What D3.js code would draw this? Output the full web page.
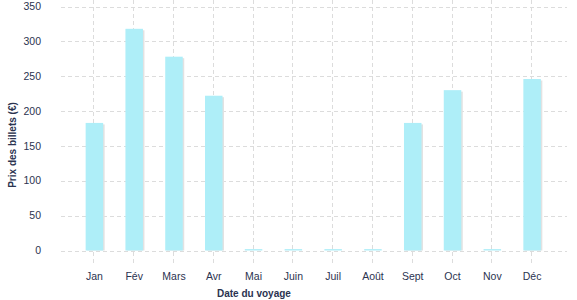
<!DOCTYPE html>
<html>
<head>
<meta charset="utf-8">
<script src="https://cdn.jsdelivr.net/npm/d3@7"></script>
<style>
  body { margin: 0; background: #fff; }
  svg { display: block; font-family: "Liberation Sans", Arial, sans-serif; }
</style>
</head>
<body>
<div id="chart"></div>
<script>
// Prix des billets par mois de voyage
const months = ["Jan", "Fév", "Mars", "Avr", "Mai", "Juin", "Juil", "Août", "Sept", "Oct", "Nov", "Déc"];
const prices = [183, 318, 278, 222, 2, 2, 2, 2, 183, 230, 2, 246];
const yTicks = [0, 50, 100, 150, 200, 250, 300, 350];

const width = 577;
const height = 300;
const textColor = "#2b3350";
const gridColor = "#dcdcdc";

const svg = d3.select("#chart")
  .append("svg")
  .attr("width", width)
  .attr("height", height);

const x = d3.scaleBand()
  .domain(months)
  .range([74.5, 552])
  .paddingInner(0.56)
  .paddingOuter(0.28);

const y = d3.scaleLinear().domain([0, 350]).range([250.5, 6.5]);

const gridLeft = 61;
const gridRight = 567;

// horizontal grid
svg.append("g")
  .selectAll("line")
  .data(yTicks)
  .join("line")
  .attr("x1", gridLeft)
  .attr("x2", gridRight)
  .attr("y1", (d) => Math.round(y(d)) + 0.5)
  .attr("y2", (d) => Math.round(y(d)) + 0.5)
  .attr("stroke", gridColor)
  .attr("stroke-dasharray", "4,3");

// vertical grid (runs past the baseline like ticks)
svg.append("g")
  .selectAll("line")
  .data(months)
  .join("line")
  .attr("x1", (d) => Math.round(x(d) + x.bandwidth() / 2) - 0.5)
  .attr("x2", (d) => Math.round(x(d) + x.bandwidth() / 2) - 0.5)
  .attr("y1", 0)
  .attr("y2", 265)
  .attr("stroke", gridColor)
  .attr("stroke-dasharray", "4,3");

// bar shadows
svg.append("g")
  .selectAll("rect")
  .data(months)
  .join("rect")
  .attr("x", (d) => x(d) + 1.5)
  .attr("y", (d, i) => y(prices[i]) + 1.5)
  .attr("width", x.bandwidth())
  .attr("height", (d, i) => Math.max(0, y(0) - y(prices[i]) - 1.5))
  .attr("fill", "#e2e2e2");

// bars
svg.append("g")
  .selectAll("rect")
  .data(months)
  .join("rect")
  .attr("x", (d) => x(d))
  .attr("y", (d, i) => y(prices[i]))
  .attr("width", x.bandwidth())
  .attr("height", (d, i) => y(0) - y(prices[i]))
  .attr("fill", "#aeeef8");

// y tick labels
svg.append("g")
  .selectAll("text")
  .data(yTicks)
  .join("text")
  .attr("x", 41)
  .attr("y", (d) => y(d))
  .attr("dy", "0.35em")
  .attr("text-anchor", "end")
  .attr("fill", textColor)
  .style("font-size", "10.5px")
  .text((d) => d);

// x tick labels
svg.append("g")
  .selectAll("text")
  .data(months)
  .join("text")
  .attr("x", (d) => x(d) + x.bandwidth() / 2)
  .attr("y", 280)
  .attr("text-anchor", "middle")
  .attr("fill", textColor)
  .style("font-size", "10.5px")
  .text((d) => d);

// axis titles
svg.append("text")
  .attr("x", 217)
  .attr("y", 297)
  .attr("fill", textColor)
  .style("font-size", "10px")
  .style("font-weight", "bold")
  .text("Date du voyage");

svg.append("text")
  .attr("transform", "translate(16,145) rotate(-90)")
  .attr("text-anchor", "middle")
  .attr("fill", textColor)
  .style("font-size", "10px")
  .style("font-weight", "bold")
  .text("Prix des billets (€)");
</script>
</body>
</html>
